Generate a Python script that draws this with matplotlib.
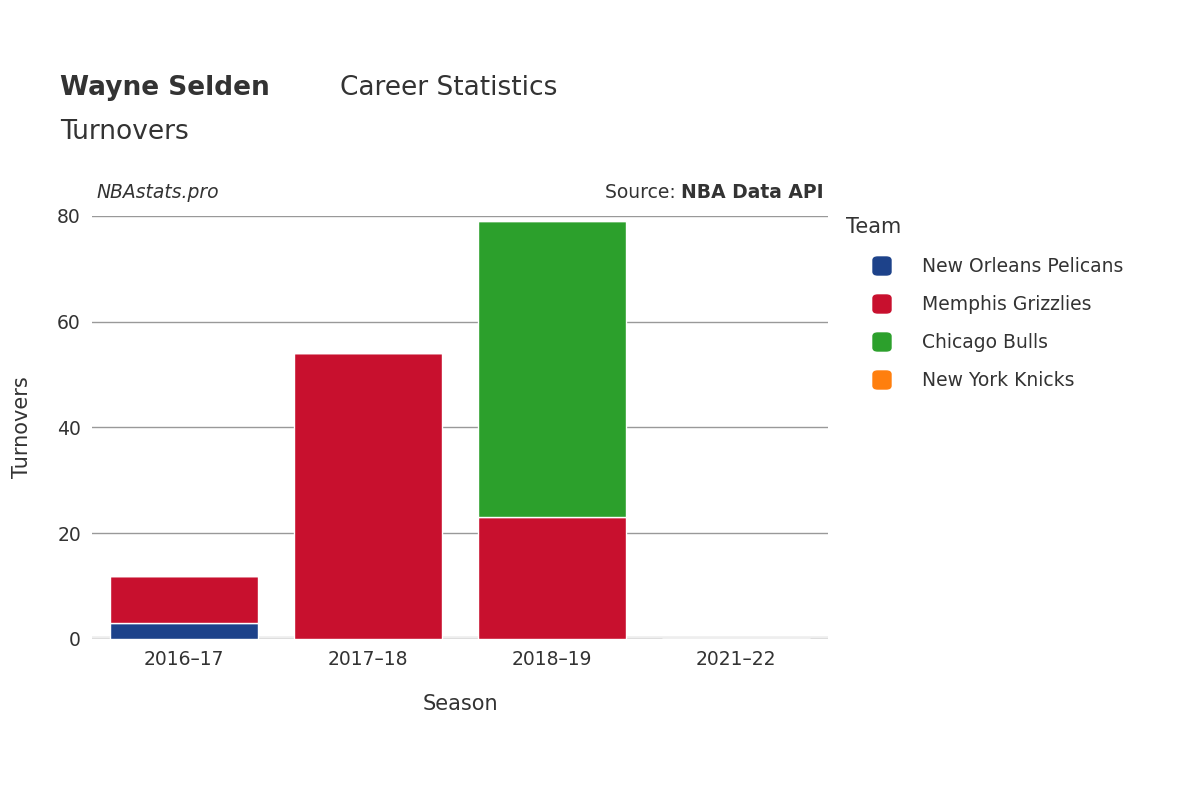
import matplotlib
matplotlib.use("Agg")
import matplotlib.pyplot as plt
import numpy as np

seasons = ["2016–17", "2017–18", "2018–19", "2021–22"]
teams = ["New Orleans Pelicans", "Memphis Grizzlies", "Chicago Bulls", "New York Knicks"]
colors = ["#1d428a", "#c8102e", "#2ca02c", "#ff7f0e"]
values = {
    "New Orleans Pelicans": [3, 0, 0, 0],
    "Memphis Grizzlies": [9, 54, 23, 0],
    "Chicago Bulls": [0, 0, 56, 0],
    "New York Knicks": [0, 0, 0, 0],
}

fig = plt.figure(figsize=(12, 8), dpi=100)
ax = fig.add_axes([92/1200, 1-639/800, (828-92)/1200, (639-216)/800])
x = np.arange(len(seasons))
bottom = np.zeros(len(seasons))
for t, c in zip(teams, colors):
    v = np.array(values[t], dtype=float)
    ax.bar(x, v, bottom=bottom, width=0.8, color=c, edgecolor="white", linewidth=1, zorder=3)
    bottom += v

ax.set_xlim(-0.5, 3.5)
ax.set_ylim(0, 80)
ax.set_yticks([0, 20, 40, 60, 80])
ax.yaxis.grid(True, color="#999999", linewidth=1, zorder=0)
for s in ax.spines.values():
    s.set_visible(False)
ax.axhline(0, color="#eeeeee", linewidth=4, zorder=1)
ax.set_xticks(x)
ax.set_xticklabels(seasons)
ax.tick_params(axis="both", length=0, labelsize=13.5, colors="#333333", pad=8)
ax.set_xlabel("Season", fontsize=15, color="#333333", labelpad=18)
ax.set_ylabel("Turnovers", fontsize=15, color="#333333", labelpad=18)

fig.text(60/1200, 1-88/800, "Wayne Selden", fontsize=19, fontweight="bold", color="#333333", va="center")
fig.text(340/1200, 1-88/800, "Career Statistics", fontsize=19, color="#333333", va="center")
fig.text(60/1200, 1-132/800, "Turnovers", fontsize=19, color="#333333", va="center")
fig.text(97/1200, 1-192/800, "NBAstats.pro", fontsize=13.5, style="italic", color="#333333", va="center")
fig.text(824/1200, 1-192/800, "Source: ", fontsize=13.5, color="#333333", va="center", ha="right")
t = fig.text(824/1200, 1-192/800, "NBA Data API", fontsize=13.5, fontweight="bold", color="#333333", va="center", ha="right")
# reposition "Source:" to left of bold text
fig.canvas.draw()
bb = t.get_window_extent()
fig.texts[-2].set_position((bb.x0/1200, 1-192/800))

fig.text(846/1200, 1-227/800, "Team", fontsize=15, color="#333333", va="center")
for i, (tm, c) in enumerate(zip(teams, colors)):
    y = 1-(266+38*i)/800
    fig.patches.append(matplotlib.patches.FancyBboxPatch((873/1200, y-9/800), 18/1200, 18/800,
        boxstyle="round,pad=0,rounding_size=0.004", transform=fig.transFigure, color=c))
    fig.text(922/1200, y, tm, fontsize=13.5, color="#333333", va="center")

fig.savefig("out.png", dpi=100)
